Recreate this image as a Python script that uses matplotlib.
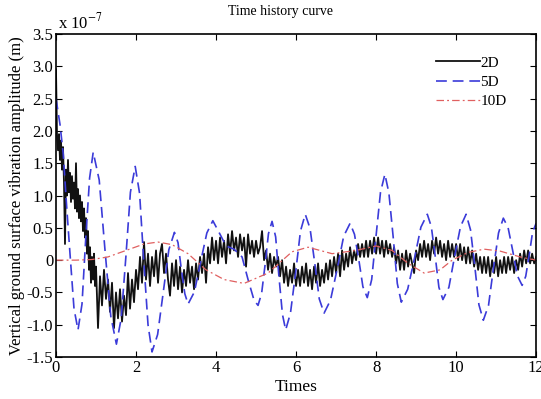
import numpy as np
import matplotlib
matplotlib.use("Agg")
import matplotlib.pyplot as plt

plt.rcParams["font.family"] = ["Liberation Serif", "DejaVu Serif"]
plt.rcParams["mathtext.fontset"] = "stix"

# amplitudes are in units of 1e-7 m
# 2D: dense sampling 0..1, then 0.05 step up to 12
t_2d = np.concatenate([np.linspace(0, 1, 41), np.linspace(1.05, 12, 220)])
amp_2d = [
    2.95, 1.95, 1.70, 1.95, 1.55, 1.85, 1.40, 1.75, 1.20, 0.25,
    1.40, 1.00, 1.55, 1.05, 1.35, 0.90, 1.30, 0.95, 1.20, 0.80,
    1.50, 0.75, 1.10, 0.65, 1.00, 0.60, 0.90, 0.45, 0.80, 0.35,
    0.65, 0.10, 0.45, -0.15, 0.20, -0.35, 0.05, -0.30, 0.10, -0.40,
    -0.10,
    # 1.05 - 2.00
    -1.05, -0.25, -0.70, -0.15, -0.60, -0.30, -0.80, -0.35, -1.05, -0.50,
    -0.90, -0.45, -0.95, -0.55, -0.85, -0.20, -0.75, -0.30, -0.65, -0.15,
    # 2.05 - 3.00
    -0.45, 0.05, -0.35, 0.28, -0.30, 0.10, -0.40, 0.05, -0.25, 0.15,
    -0.35, 0.10, 0.25, -0.20, 0.10, -0.30, -0.55, -0.05, -0.40, 0.00,
    # 3.05 - 4.00
    -0.45, -0.10, -0.50, -0.15, -0.40, 0.00, -0.35, -0.10, -0.45, -0.05,
    -0.30, 0.05, -0.20, 0.10, -0.35, 0.20, -0.05, 0.35, 0.00, 0.30,
    # 4.05 - 5.00
    -0.05, 0.35, 0.05, 0.30, -0.05, 0.40, 0.10, 0.45, 0.15, 0.35,
    0.05, 0.40, 0.15, 0.35, -0.10, 0.40, 0.10, 0.30, 0.05, 0.30,
    # 5.05 - 6.00
    0.10, 0.20, 0.45, 0.00, 0.15, -0.15, 0.10, -0.20, 0.05, -0.10,
    0.05, -0.25, 0.00, -0.35, -0.10, -0.40, -0.15, -0.35, -0.05, -0.40,
    # 6.05 - 7.00
    -0.15, -0.40, -0.10, -0.35, -0.05, -0.40, -0.15, -0.45, -0.10, -0.35,
    -0.05, -0.40, -0.15, -0.35, -0.05, -0.30, 0.00, -0.25, 0.05, -0.20,
    # 7.05 - 8.00
    0.10, -0.25, 0.15, -0.15, 0.10, -0.10, 0.20, -0.05, 0.15, 0.00,
    0.25, 0.05, 0.25, 0.05, 0.30, 0.05, 0.30, 0.10, 0.35, 0.10,
    # 8.05 - 9.00
    0.35, 0.10, 0.30, 0.05, 0.30, 0.10, 0.25, 0.05, 0.20, -0.05,
    0.15, -0.15, 0.10, -0.15, 0.15, -0.10, 0.10, -0.05, -0.20, 0.15,
    # 9.05 - 10.00
    0.00, 0.25, 0.05, 0.30, 0.05, 0.25, 0.00, 0.30, 0.10, 0.35,
    0.10, 0.30, 0.05, 0.25, 0.00, 0.30, 0.05, 0.25, 0.05, 0.25,
    # 10.05 - 11.00
    0.00, 0.25, 0.00, 0.20, -0.05, 0.20, -0.05, 0.15, -0.10, 0.10,
    -0.15, 0.05, -0.20, 0.05, -0.20, 0.05, -0.25, 0.00, -0.20, 0.05,
    # 11.05 - 12.00
    -0.25, 0.00, -0.20, 0.05, -0.20, 0.05, -0.15, 0.05, -0.20, 0.00,
    -0.15, 0.10, -0.10, 0.15, -0.05, 0.15, -0.05, 0.10, -0.05, 0.05,
]

t_5d = [
    0.00, 0.10, 0.18, 0.27, 0.35, 0.45, 0.55,
    0.65, 0.74, 0.84, 0.93,
    1.08, 1.22, 1.37, 1.51,
    1.63, 1.75, 1.86, 1.98,
    2.09, 2.19, 2.30, 2.40,
    2.54, 2.68, 2.82, 2.96,
    3.05, 3.13, 3.22, 3.30,
    3.46, 3.61, 3.77, 3.92,
    4.10, 4.25, 4.45, 4.65, 4.80, 4.95, 5.05,
    5.14, 5.23, 5.31, 5.40,
    5.49, 5.57, 5.66, 5.74,
    5.86, 5.99, 6.11, 6.23,
    6.35, 6.47, 6.58, 6.70,
    6.86, 7.03, 7.19, 7.35,
    7.46, 7.57, 7.67, 7.78,
    7.89, 8.00, 8.11, 8.22,
    8.32, 8.43, 8.53, 8.63,
    8.79, 8.96, 9.12, 9.28,
    9.38, 9.48, 9.57, 9.67,
    9.82, 9.96, 10.11, 10.25,
    10.36, 10.47, 10.57, 10.68,
    10.81, 10.93, 11.06, 11.18,
    11.30, 11.42, 11.53, 11.65,
    11.74, 11.83, 11.91, 12.00,
]
amp_5d = [
    2.50, 2.10, 1.65, 0.80, 0.10, -0.75, -1.08,
    -0.68, 0.30, 1.27, 1.67,
    1.24, 0.19, -0.87, -1.30,
    -0.90, 0.08, 1.05, 1.45,
    1.03, 0.02, -1.00, -1.42,
    -1.15, -0.50, 0.16, 0.43,
    0.27, -0.13, -0.52, -0.68,
    -0.49, -0.04, 0.42, 0.61,
    0.40, 0.22, 0.17, 0.05, -0.30, -0.62, -0.70,
    -0.51, -0.05, 0.41, 0.60,
    0.36, -0.24, -0.84, -1.08,
    -0.82, -0.19, 0.45, 0.71,
    0.49, -0.06, -0.60, -0.82,
    -0.62, -0.13, 0.37, 0.57,
    0.40, 0.00, -0.41, -0.58,
    -0.30, 0.38, 1.05, 1.33,
    1.04, 0.34, -0.36, -0.65,
    -0.45, 0.03, 0.51, 0.71,
    0.52, 0.05, -0.42, -0.61,
    -0.42, 0.05, 0.52, 0.71,
    0.47, -0.11, -0.69, -0.93,
    -0.70, -0.14, 0.42, 0.65,
    0.50, 0.13, -0.24, -0.39,
    -0.25, 0.09, 0.43, 0.57,
]

t_10d = [0.0, 0.5, 0.9, 1.3, 1.75, 2.2, 2.55, 2.9, 3.3, 3.75, 4.2, 4.7,
         5.3, 5.9, 6.3, 6.9, 7.5, 8.0, 8.4, 8.8, 9.2, 9.6, 9.9, 10.3,
         10.7, 11.1, 11.6, 12.0]
amp_10d = [0.0, 0.0, 0.01, 0.05, 0.15, 0.25, 0.28, 0.24, 0.10, -0.15, -0.30, -0.36,
           -0.20, 0.13, 0.20, 0.10, 0.15, 0.22, 0.15, -0.05, -0.20, -0.15, 0.0, 0.12,
           0.17, 0.14, 0.05, 0.0]

y_ticks = [-1.5, -1.0, -0.5, 0, 0.5, 1.0, 1.5, 2.0, 2.5, 3.0, 3.5]
y_ticklabels = ["-1.5", "-1.0", "-0.5", "0", "0.5", "1.0", "1.5", "2.0", "2.5", "3.0", "3.5"]

fig = plt.figure(figsize=(5.41, 3.99), dpi=100)
ax = fig.add_axes([0.1035, 0.105, 0.8875, 0.81])

ax.plot(t_2d, amp_2d, color="#111111", lw=1.3, label="2D")
ax.plot(t_5d, amp_5d, color="#3b3bd9", lw=1.2, ls=(0, (6.5, 3.5)), label="5D")
ax.plot(t_10d, amp_10d, color="#e06060", lw=0.9, ls=(0, (6, 2.5, 1.5, 2.5)), label="10D")

ax.set_xlim(0, 12)
ax.set_ylim(-1.5, 3.5)
ax.set_xticks(range(0, 13, 2))
ax.set_yticks(y_ticks)
ax.set_yticklabels(y_ticklabels)
ax.tick_params(direction="in", top=True, right=True, labelsize=12, length=4, pad=2)
for s in ax.spines.values():
    s.set_linewidth(1.2)

ax.text(0.005, 1.005, r"x 10$^{-7}$", transform=ax.transAxes, fontsize=12,
        ha="left", va="bottom")
fig.text(280 / 541, 1 - 12 / 399, "Time history curve", fontsize=10, ha="center", va="center")
ax.set_xlabel("Times", fontsize=12.5, labelpad=2)
ax.set_ylabel("Vertical ground surface vibration amplitude (m)", fontsize=12, labelpad=1)

ax.legend(loc="upper right", bbox_to_anchor=(0.945, 0.941), frameon=False, fontsize=11,
          handlelength=2.9, handletextpad=0.0, labelspacing=0.37, borderaxespad=0.0,
          borderpad=0.2)

fig.savefig("out.png", dpi=100)
